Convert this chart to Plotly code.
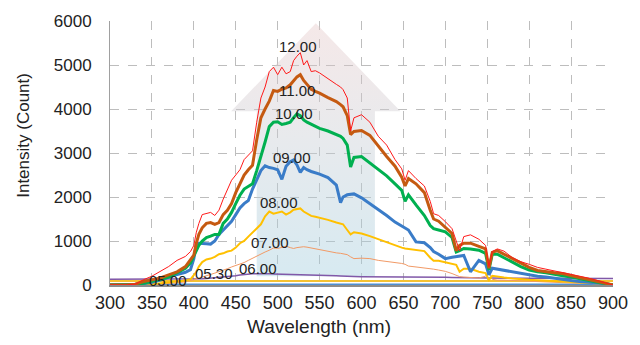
import plotly.graph_objects as go

# Wavelength grid (nm) shared by all spectra
wavelength = [300, 320, 330, 340, 350, 360, 370, 380, 390, 396, 400, 403, 406, 410, 415, 420, 425,
              430, 435, 440, 445, 450, 455, 460, 465, 470, 475, 480, 485, 490, 495, 500, 505, 510,
              515, 519, 523, 527, 531, 535, 540, 545, 550, 560, 570, 575, 578, 583, 587, 591, 600,
              610, 620, 630, 640, 648, 652, 656, 665, 675, 682, 686, 692, 700, 708, 713, 717, 722,
              730, 740, 748, 752, 756, 762, 770, 780, 790, 800, 810, 820, 830, 840, 850, 860, 870,
              880, 890, 900]

# Intensity (counts) recorded at each time of day
i_1200 = [0, 0, 20, 120, 200, 310, 420, 560, 650, 760, 900, 1200, 1400, 1600, 1620, 1650, 1580,
          1700, 1950, 2150, 2380, 2500, 2620, 2850, 2960, 3050, 3700, 4250, 4500, 4850, 4950, 4780,
          4950, 4800, 4850, 5100, 5200, 5280, 5000, 5100, 4850, 4870, 4820, 4680, 4560, 4500, 4440,
          4250, 3500, 3800, 3870, 3700, 3380, 3180, 2850, 2640, 2380, 2600, 2420, 2250, 1900, 1620,
          1580, 1440, 1280, 1000, 780, 1100, 1140, 1040, 900, 420, 760, 820, 770, 620, 530, 470,
          400, 360, 320, 290, 250, 200, 160, 110, 50, 0]
i_1100 = [0, 0, 20, 80, 120, 160, 230, 300, 420, 560, 680, 950, 1150, 1300, 1400, 1420, 1380,
          1420, 1600, 1700, 1850, 2100, 2300, 2500, 2620, 2720, 3300, 3800, 4000, 4180, 4420, 4400,
          4450, 4480, 4550, 4650, 4730, 4780, 4650, 4560, 4450, 4400, 4360, 4260, 4170, 4100, 4050,
          3850, 3420, 3490, 3510, 3400, 3150, 2920, 2700, 2450, 2250, 2420, 2300, 2100, 1700, 1500,
          1450, 1320, 1170, 780, 900, 950, 950, 880, 820, 380, 740, 780, 700, 600, 500, 400, 330,
          300, 280, 260, 210, 170, 130, 90, 40, 0]
i_1000 = [0, 0, 10, 40, 80, 130, 180, 280, 380, 500, 650, 800, 900, 1000, 1080, 1110, 1150, 1150,
          1400, 1500, 1650, 1850, 2040, 2180, 2250, 2300, 2600, 2900, 3250, 3600, 3700, 3710, 3650,
          3670, 3700, 3800, 3890, 3850, 3750, 3700, 3650, 3600, 3560, 3500, 3430, 3380, 3330, 3180,
          2680, 2900, 2920, 2780, 2630, 2480, 2300, 2150, 1900, 2050, 1820, 1580, 1350, 1280, 1250,
          1210, 1080, 750, 780, 830, 820, 790, 720, 340, 700, 700, 620, 520, 420, 340, 300, 280,
          240, 210, 180, 150, 110, 70, 30, 0]
i_0900 = [0, 0, 10, 30, 60, 110, 180, 240, 290, 350, 600, 930, 950, 950, 940, 930, 1000, 1150,
          1250, 1350, 1450, 1600, 1750, 1850, 1920, 2180, 2400, 2600, 2710, 2670, 2650, 2620, 2400,
          2700, 2800, 2840, 2730, 2560, 2670, 2620, 2580, 2550, 2520, 2440, 2270, 1870, 2000, 2050,
          2060, 2070, 1980, 1850, 1700, 1580, 1430, 1330, 1290, 1250, 980, 960, 850, 760, 700, 600,
          630, 640, 650, 670, 300, 560, 480, 230, 380, 360, 330, 300, 250, 220, 200, 180, 150, 120,
          100, 80, 70, 50, 30, 0]
i_0800 = [0, 0, 0, 10, 20, 40, 60, 80, 100, 130, 220, 300, 420, 520, 580, 600, 640, 700, 720, 760,
          780, 850, 950, 1000, 1100, 1200, 1280, 1380, 1560, 1670, 1620, 1650, 1670, 1600, 1650,
          1710, 1720, 1740, 1670, 1620, 1570, 1550, 1530, 1480, 1420, 1390, 1380, 1250, 1150, 1200,
          1170, 1110, 1040, 970, 890, 850, 830, 820, 800, 770, 620, 550, 550, 520, 490, 460, 300,
          370, 370, 300, 270, 110, 210, 200, 170, 150, 130, 120, 110, 100, 90, 80, 70, 60, 50, 40,
          30, 20]
i_0700 = [0, 0, 0, 0, 10, 20, 30, 50, 70, 90, 120, 140, 155, 180, 210, 240, 270, 300, 330, 370,
          410, 440, 480, 510, 560, 610, 660, 710, 750, 790, 840, 830, 860, 880, 850, 830, 850, 860,
          870, 860, 840, 820, 800, 760, 730, 720, 710, 690, 640, 600, 610, 600, 560, 540, 510, 490,
          470, 430, 410, 390, 380, 360, 340, 310, 260, 220, 190, 180, 170, 160, 200, 280, 130, 110,
          110, 100, 90, 80, 70, 60, 55, 50, 45, 40, 40, 30, 25, 20]
i_0600 = [130, 130, 130, 130, 130, 130, 130, 132, 133, 134, 135, 137, 138, 140, 148, 155, 160, 165,
          172, 180, 195, 210, 225, 240, 248, 255, 258, 262, 258, 255, 252, 250, 249, 248, 246, 245,
          244, 242, 238, 235, 232, 228, 225, 222, 210, 205, 200, 198, 196, 194, 190, 190, 190, 190,
          190, 190, 190, 190, 188, 185, 182, 180, 178, 175, 172, 170, 168, 165, 162, 160, 158, 158,
          157, 157, 156, 155, 155, 155, 154, 153, 152, 152, 151, 151, 150, 150, 150, 150]
i_0530 = [90] * 12 + [95] * 20 + [100] * 30 + [95] * 16 + [90] * 10
i_0500 = [15] * len(wavelength)

series = [
    ("05.00", i_0500, "#4f8fd0", 1.5),
    ("05.30", i_0530, "#f5c232", 2.0),
    ("06.00", i_0600, "#8058a8", 1.5),
    ("07.00", i_0700, "#f29a66", 1.0),
    ("08.00", i_0800, "#ffc000", 2.0),
    ("09.00", i_0900, "#3a7cc8", 3.0),
    ("10.00", i_1000, "#00b050", 3.0),
    ("11.00", i_1100, "#c55a11", 3.0),
    ("12.00", i_1200, "#ff1a1a", 1.0),
]

# Time labels placed beside each curve (wavelength, intensity)
label_text = ["05.00", "05.30", "06.00", "07.00", "08.00", "09.00", "10.00", "11.00", "12.00"]
label_x = [369, 424, 477, 491, 502, 517, 519, 523, 524]
label_y = [110, 267, 378, 955, 1870, 2890, 3890, 4420, 5420]

FONT = "Arial, Liberation Sans, sans-serif"

fig = go.Figure()

# Large translucent up-arrow behind the spectra
tip_x, tip_y = 545.5, 5950
head_half, head_base = 101, 3950
shaft_half, shaft_bottom = 70.5, 200
arrow_x = [tip_x, tip_x + head_half, tip_x + shaft_half, tip_x + shaft_half,
           tip_x - shaft_half, tip_x - shaft_half, tip_x - head_half, tip_x]
arrow_y = [tip_y, head_base, head_base, shaft_bottom, shaft_bottom, head_base, head_base, tip_y]
fig.add_trace(go.Scatter(
    x=arrow_x, y=arrow_y, mode="lines", fill="toself", line=dict(width=0),
    fillgradient=dict(type="vertical",
                      colorscale=[[0, "rgba(160,205,222,0.42)"],
                                  [0.55, "rgba(200,205,212,0.42)"],
                                  [1, "rgba(228,195,195,0.38)"]]),
    hoverinfo="skip", showlegend=False))

for name, vals, color, width in series:
    fig.add_trace(go.Scatter(x=wavelength, y=vals, mode="lines", name=name,
                             line=dict(color=color, width=width), showlegend=False))

for t, x, y in zip(label_text, label_x, label_y):
    fig.add_annotation(x=x, y=y, text=t, showarrow=False, xanchor="center", yanchor="middle",
                       font=dict(family=FONT, size=15, color="#222222"))

# Axis titles
fig.add_annotation(xref="paper", yref="paper", x=0.415, y=-0.156, text="Wavelength (nm)",
                   showarrow=False, xanchor="center", yanchor="middle",
                   font=dict(family=FONT, size=19, color="#222222"))
fig.add_annotation(xref="paper", yref="paper", x=-0.172, y=0.567, text="Intensity (Count)",
                   showarrow=False, xanchor="center", yanchor="middle", textangle=-90,
                   font=dict(family=FONT, size=17, color="#222222"))

fig.update_layout(
    width=640, height=345,
    margin=dict(l=110, r=19, t=15, b=60),
    paper_bgcolor="white", plot_bgcolor="white",
    font=dict(family=FONT, size=17, color="#222222"),
    showlegend=False,
)
fig.update_xaxes(range=[300, 900], dtick=50, tick0=300,
                 showgrid=True, gridcolor="#bdbdbd", griddash="dash", gridwidth=1,
                 showline=True, linecolor="#8c8c8c", linewidth=1.5,
                 ticks="outside", ticklen=1, tickcolor="rgba(0,0,0,0)",
                 tickfont=dict(size=18), zeroline=False)
fig.update_yaxes(range=[0, 6000], dtick=1000,
                 showgrid=True, gridcolor="#bdbdbd", griddash="dash", gridwidth=1,
                 showline=True, linecolor="#a0a0a0", linewidth=1,
                 ticks="outside", ticklen=14, tickcolor="rgba(0,0,0,0)",
                 tickfont=dict(size=17), zeroline=False)

fig.write_html("out.html")
